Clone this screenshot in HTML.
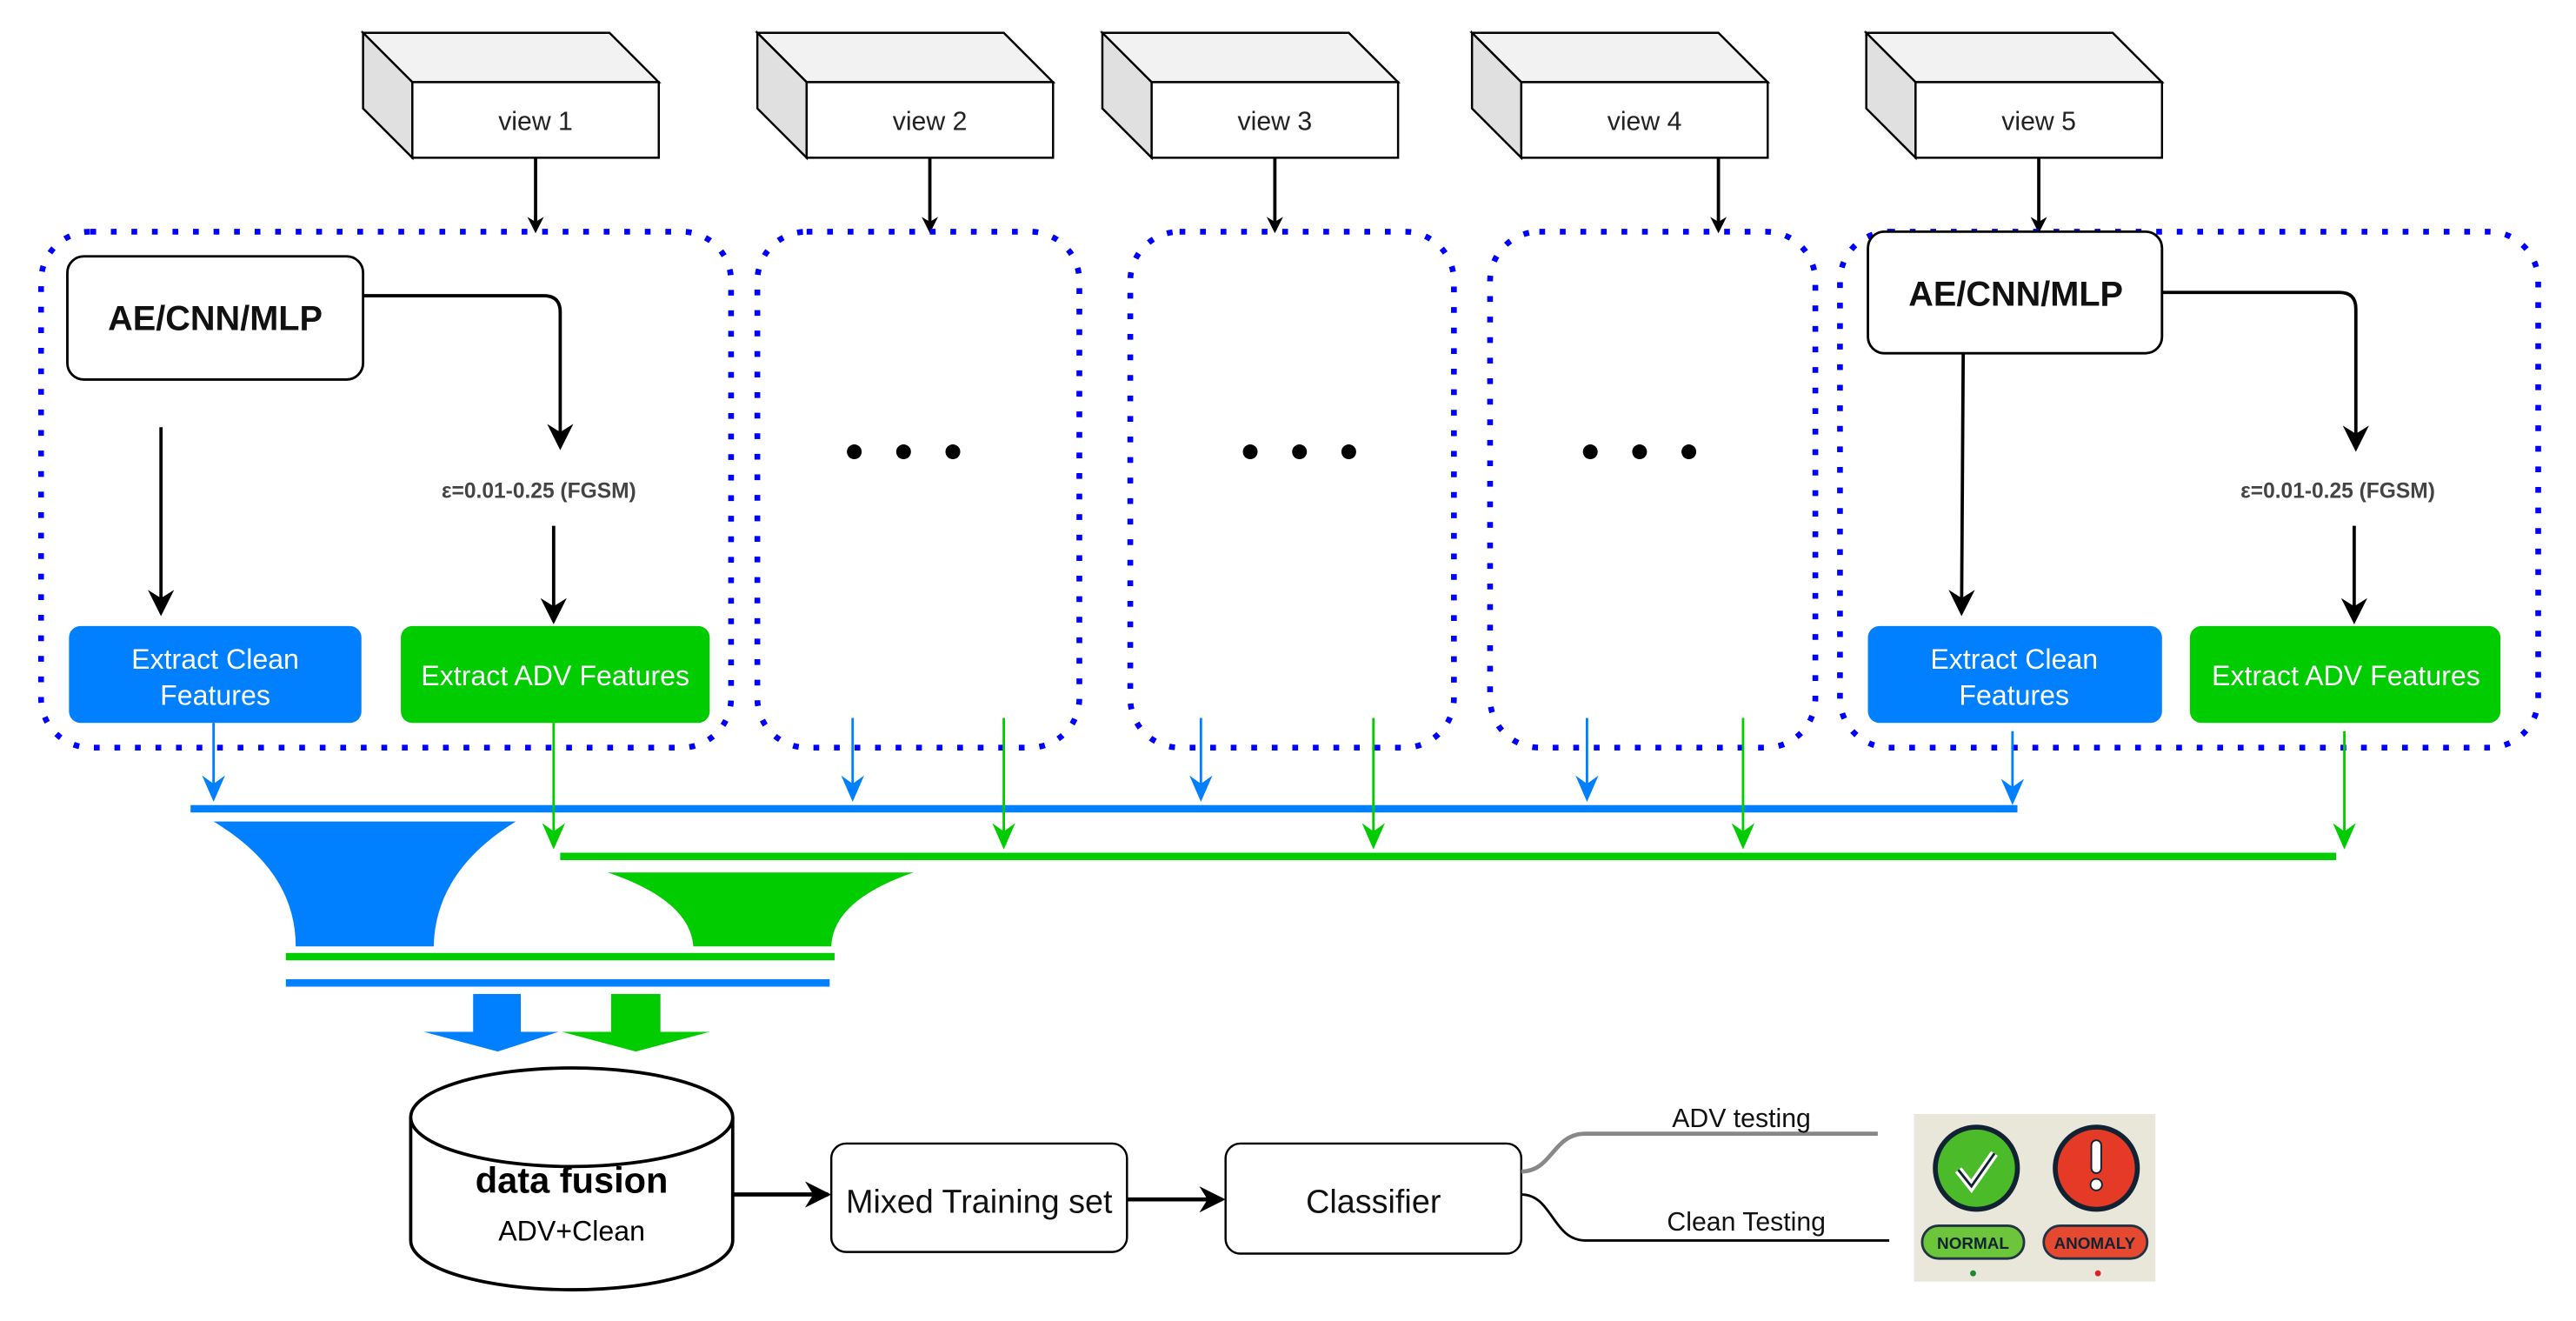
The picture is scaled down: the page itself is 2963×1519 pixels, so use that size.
<!DOCTYPE html>
<html><head><meta charset="utf-8"><style>
html,body{margin:0;padding:0;background:#fff;}
svg{display:block;}
text{font-family:"Liberation Sans",sans-serif;}
</style></head><body>
<svg width="2963" height="1519" viewBox="0 0 1568 804" preserveAspectRatio="none" xmlns="http://www.w3.org/2000/svg">
<defs>
<marker id="ab" markerWidth="10" markerHeight="10" refX="8" refY="5" orient="auto" markerUnits="userSpaceOnUse"><path d="M0,0 L10,5 L0,10 L3,5 z" fill="#000"/></marker>
<marker id="abig" markerWidth="16" markerHeight="16" refX="14" refY="8" orient="auto" markerUnits="userSpaceOnUse"><path d="M0,0 L16,8 L0,16 L5,8 z" fill="#000"/></marker>
<marker id="mb" markerWidth="16" markerHeight="14" refX="14" refY="7" orient="auto" markerUnits="userSpaceOnUse"><path d="M0,0 L16,7 L0,14 L5,7 z" fill="#0080ff"/></marker>
<marker id="mg" markerWidth="16" markerHeight="14" refX="14" refY="7" orient="auto" markerUnits="userSpaceOnUse"><path d="M0,0 L16,7 L0,14 L5,7 z" fill="#00cc00"/></marker>
<g id="box3d">
<path d="M0,0 L150,0 L180,30 L30,30 Z" fill="#f2f2f2" stroke="#000" stroke-width="1.3"/>
<path d="M0,0 L30,30 L30,76 L0,46 Z" fill="#e0e0e0" stroke="#000" stroke-width="1.3"/>
<rect x="30" y="30" width="150" height="46" fill="#fff" stroke="#000" stroke-width="1.3"/>
</g>
</defs>

<use href="#box3d" x="221" y="20"/>
<use href="#box3d" x="461" y="20"/>
<use href="#box3d" x="671" y="20"/>
<use href="#box3d" x="896" y="20"/>
<use href="#box3d" x="1136" y="20"/>
<g font-size="16" text-anchor="middle" fill="#222">
<text x="326" y="79">view 1</text>
<text x="566" y="79">view 2</text>
<text x="776" y="79">view 3</text>
<text x="1001" y="79">view 4</text>
<text x="1241" y="79">view 5</text>
</g>
<g stroke="#000" stroke-width="2" fill="none">
<line x1="326" y1="96" x2="326" y2="140" marker-end="url(#ab)"/>
<line x1="566" y1="96" x2="566" y2="140" marker-end="url(#ab)"/>
<line x1="776" y1="96" x2="776" y2="140" marker-end="url(#ab)"/>
<line x1="1046" y1="96" x2="1046" y2="140" marker-end="url(#ab)"/>
<line x1="1241" y1="96" x2="1241" y2="140" marker-end="url(#ab)"/>
</g>

<g fill="none" stroke="#0000ff" stroke-width="3.5" stroke-dasharray="3.5 9">
<rect x="25" y="141" width="420" height="314" rx="30"/>
<rect x="461" y="141" width="196" height="314" rx="30"/>
<rect x="688" y="141" width="197" height="314" rx="30"/>
<rect x="907" y="141" width="198" height="314" rx="30"/>
<rect x="1120" y="141" width="425" height="314" rx="30"/>
</g>

<rect x="41" y="156" width="180" height="75" rx="10" fill="#fff" stroke="#000" stroke-width="1.5"/>
<text x="131" y="201" font-size="21" font-weight="bold" text-anchor="middle" fill="#111">AE/CNN/MLP</text>
<path d="M221,180 L331,180 Q341,180 341,190 L341,272" fill="none" stroke="#000" stroke-width="2" marker-end="url(#abig)"/>
<text x="328" y="303" font-size="13" font-weight="bold" text-anchor="middle" fill="#444">ε=0.01-0.25 (FGSM)</text>
<line x1="98" y1="260" x2="98" y2="373" stroke="#000" stroke-width="2" marker-end="url(#abig)"/>
<line x1="337" y1="320" x2="337" y2="378" stroke="#000" stroke-width="2" marker-end="url(#abig)"/>
<rect x="42" y="381" width="178" height="59" rx="7" fill="#0080ff"/>
<text x="131" y="407" font-size="17" text-anchor="middle" fill="#fff">Extract Clean</text>
<text x="131" y="429" font-size="17" text-anchor="middle" fill="#fff">Features</text>
<rect x="244" y="381" width="188" height="59" rx="7" fill="#00cc00"/>
<text x="338" y="417" font-size="17" text-anchor="middle" fill="#fff">Extract ADV Features</text>

<rect x="1137" y="141" width="179" height="74" rx="10" fill="#fff" stroke="#000" stroke-width="1.5"/>
<text x="1227" y="186" font-size="21" font-weight="bold" text-anchor="middle" fill="#111">AE/CNN/MLP</text>
<path d="M1316,178 L1424,178 Q1434,178 1434,188 L1434,273" fill="none" stroke="#000" stroke-width="2" marker-end="url(#abig)"/>
<text x="1423" y="303" font-size="13" font-weight="bold" text-anchor="middle" fill="#444">ε=0.01-0.25 (FGSM)</text>
<line x1="1195" y1="215" x2="1194" y2="373" stroke="#000" stroke-width="2" marker-end="url(#abig)"/>
<line x1="1433" y1="320" x2="1433" y2="378" stroke="#000" stroke-width="2" marker-end="url(#abig)"/>
<rect x="1137" y="381" width="179" height="59" rx="7" fill="#0080ff"/>
<text x="1226" y="407" font-size="17" text-anchor="middle" fill="#fff">Extract Clean</text>
<text x="1226" y="429" font-size="17" text-anchor="middle" fill="#fff">Features</text>
<rect x="1333" y="381" width="189" height="59" rx="7" fill="#00cc00"/>
<text x="1428" y="417" font-size="17" text-anchor="middle" fill="#fff">Extract ADV Features</text>

<g fill="#000">
<circle cx="520" cy="275" r="4.5"/><circle cx="550" cy="275" r="4.5"/><circle cx="580" cy="275" r="4.5"/>
<circle cx="761" cy="275" r="4.5"/><circle cx="791" cy="275" r="4.5"/><circle cx="821" cy="275" r="4.5"/>
<circle cx="968" cy="275" r="4.5"/><circle cx="998" cy="275" r="4.5"/><circle cx="1028" cy="275" r="4.5"/>
</g>

<g stroke="#0080ff" stroke-width="1.5" fill="none">
<line x1="130" y1="440" x2="130" y2="486" marker-end="url(#mb)"/>
<line x1="519" y1="437" x2="519" y2="486" marker-end="url(#mb)"/>
<line x1="731" y1="437" x2="731" y2="486" marker-end="url(#mb)"/>
<line x1="966" y1="437" x2="966" y2="486" marker-end="url(#mb)"/>
<line x1="1225" y1="445" x2="1225" y2="488" marker-end="url(#mb)"/>
</g>
<rect x="116" y="490" width="1112" height="4.5" fill="#0080ff"/>
<g stroke="#00cc00" stroke-width="1.5" fill="none">
<line x1="337" y1="440" x2="337" y2="515" marker-end="url(#mg)"/>
<line x1="611" y1="437" x2="611" y2="515" marker-end="url(#mg)"/>
<line x1="836" y1="437" x2="836" y2="515" marker-end="url(#mg)"/>
<line x1="1061" y1="437" x2="1061" y2="515" marker-end="url(#mg)"/>
<line x1="1427" y1="445" x2="1427" y2="515" marker-end="url(#mg)"/>
</g>
<rect x="341" y="519" width="1081" height="4.5" fill="#00cc00"/>

<path d="M130,500 L314,500 Q265,530 264,576 L180,576 Q180,530 130,500 Z" fill="#0080ff"/>
<path d="M370,531 L556,531 Q507,548 506,576 L422,576 Q420,548 370,531 Z" fill="#00cc00"/>
<rect x="174" y="580" width="334" height="4.5" fill="#00cc00"/>
<rect x="174" y="596" width="331" height="4.5" fill="#0080ff"/>

<path d="M288,605 L317,605 L317,628 L340,628 L303,640 L258,628 L288,628 Z" fill="#0080ff"/>
<path d="M372,605 L402,605 L402,628 L432,628 L387,640 L342,628 L372,628 Z" fill="#00cc00"/>

<path d="M250,680 L250,755 A98,30 0 0 0 446,755 L446,680" fill="#fff" stroke="#000" stroke-width="2"/>
<ellipse cx="348" cy="680" rx="98" ry="30" fill="#fff" stroke="#000" stroke-width="2"/>
<text x="348" y="726" font-size="22" font-weight="bold" text-anchor="middle" fill="#000">data fusion</text>
<text x="348" y="755" font-size="17" text-anchor="middle" fill="#000">ADV+Clean</text>

<line x1="446" y1="727" x2="504" y2="727" stroke="#000" stroke-width="2.5" marker-end="url(#abig)"/>
<rect x="506" y="696" width="180" height="66" rx="9" fill="#fff" stroke="#000" stroke-width="1.3"/>
<text x="596" y="738" font-size="20" text-anchor="middle" fill="#111">Mixed Training set</text>
<line x1="686" y1="730" x2="744" y2="730" stroke="#000" stroke-width="2.5" marker-end="url(#abig)"/>
<rect x="746" y="696" width="180" height="67" rx="9" fill="#fff" stroke="#000" stroke-width="1.3"/>
<text x="836" y="738" font-size="20" text-anchor="middle" fill="#111">Classifier</text>

<path d="M926,713 C945,713 945,690 965,690 L1143,690" fill="none" stroke="#888" stroke-width="2.5"/>
<path d="M926,727 C945,727 945,755 965,755 L1150,755" fill="none" stroke="#000" stroke-width="1.5"/>
<text x="1060" y="686" font-size="16" text-anchor="middle" fill="#111">ADV testing</text>
<text x="1063" y="749" font-size="16" text-anchor="middle" fill="#111">Clean Testing</text>

<rect x="1165" y="678" width="147" height="102" fill="#e9e6da"/>
<circle cx="1203" cy="711" r="25" fill="#4cbb2a" stroke="#123" stroke-width="3"/>
<path d="M1192,712 L1200,722 L1214,702" fill="none" stroke="#fff" stroke-width="5"/>
<path d="M1192,712 L1200,722 L1214,702" fill="none" stroke="#123" stroke-width="1.5"/>
<circle cx="1276" cy="711" r="25" fill="#e53a25" stroke="#123" stroke-width="3"/>
<rect x="1273" y="694" width="6" height="20" rx="3" fill="#fff" stroke="#123" stroke-width="1"/>
<circle cx="1276" cy="721" r="3.5" fill="#fff" stroke="#123" stroke-width="1"/>
<rect x="1170" y="746" width="62" height="20" rx="10" fill="#6cc53a" stroke="#234" stroke-width="1.5"/>
<text x="1201" y="760" font-size="10" font-weight="bold" text-anchor="middle" fill="#123">NORMAL</text>
<rect x="1244" y="746" width="63" height="20" rx="10" fill="#e54a30" stroke="#234" stroke-width="1.5"/>
<text x="1275" y="760" font-size="10" font-weight="bold" text-anchor="middle" fill="#123">ANOMALY</text>
<circle cx="1201" cy="775" r="1.8" fill="#1a8a2a"/>
<circle cx="1277" cy="775" r="1.8" fill="#d22"/>
</svg>
</body></html>
